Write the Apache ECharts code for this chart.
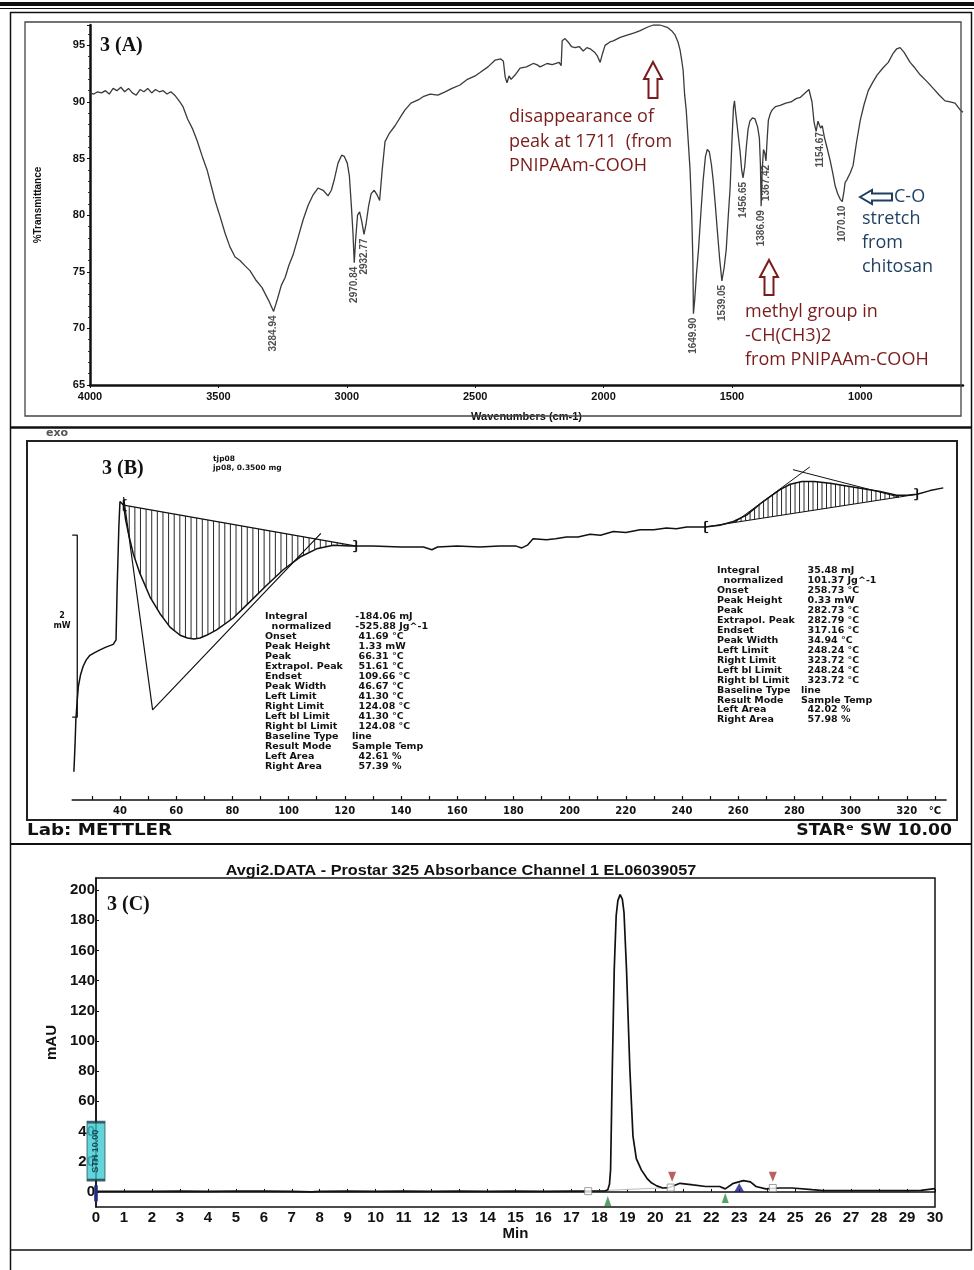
<!DOCTYPE html>
<html>
<head>
<meta charset="utf-8">
<script src="https://cdn.jsdelivr.net/npm/echarts@6/dist/echarts.min.js"></script>
<style>
  html, body { margin: 0; padding: 0; background: #fff; }
  #fig { width: 974px; height: 1270px; }
</style>
</head>
<body>
<div id="fig"></div>
<script>
// ---------- 3(A) FTIR spectrum: [wavenumber cm-1, %T] ----------
const irSpectrum = [
  [4000,90.8],[3985,90.7],[3970,90.9],[3955,90.8],[3940,91.0],[3925,90.7],[3910,91.2],[3895,91.0],[3880,91.3],[3865,90.9],
  [3850,91.2],[3835,90.8],[3820,90.6],[3805,91.1],[3790,90.9],[3775,91.2],[3760,90.8],[3745,91.1],[3730,90.9],[3715,91.0],
  [3700,90.7],[3685,90.9],[3670,90.6],[3650,90.0],[3638,89.6],[3620,88.5],[3600,87.6],[3583,86.6],[3560,85.0],[3544,84.0],
  [3528,82.6],[3513,81.3],[3495,80.0],[3474,78.4],[3455,77.2],[3435,76.3],[3416,76.0],[3395,75.5],[3377,75.1],[3355,74.3],
  [3330,73.6],[3305,72.5],[3284.94,71.5],[3270,72.6],[3255,73.8],[3240,74.5],[3225,75.6],[3209,76.5],[3190,78.0],[3170,79.6],
  [3150,80.9],[3131,81.8],[3112,82.4],[3092,82.2],[3073,81.7],[3060,82.2],[3048,83.2],[3034,84.6],[3020,85.3],[3010,85.2],
  [2998,84.6],[2990,83.5],[2982,80.8],[2976,78.5],[2970.84,75.8],[2965,78.0],[2958,80.0],[2950,80.3],[2942,79.5],[2932.77,78.3],
  [2925,79.2],[2915,80.8],[2905,81.9],[2893,82.2],[2882,81.8],[2872,81.3],[2862,84.0],[2851,86.5],[2835,87.2],[2812,87.9],
  [2790,88.7],[2773,89.3],[2750,89.9],[2720,90.2],[2700,90.5],[2675,90.7],[2645,90.6],[2617,90.9],[2590,91.2],[2559,91.5],
  [2530,92.0],[2500,92.3],[2481,92.6],[2450,93.1],[2422,93.7],[2400,93.8],[2390,93.6],[2383,92.2],[2376,91.7],[2368,92.3],
  [2360,92.0],[2344,92.4],[2325,93.0],[2300,93.1],[2274,93.4],[2260,93.3],[2247,93.1],[2220,93.4],[2200,93.3],[2173,93.5],
  [2165,93.2],[2161,95.4],[2150,95.6],[2138,95.3],[2125,94.9],[2111,94.8],[2095,94.9],[2079,94.5],[2065,94.8],[2052,94.7],
  [2035,94.4],[2025,94.1],[2013,93.5],[2005,94.2],[1994,95.0],[1975,95.3],[1962,95.4],[1935,95.7],[1908,95.9],[1880,96.1],
  [1857,96.3],[1830,96.6],[1807,96.8],[1780,96.8],[1752,96.6],[1735,96.3],[1721,95.9],[1710,95.3],[1702,94.6],[1695,93.6],
  [1690,92.8],[1684,90.6],[1678,89.3],[1670,86.5],[1663,84.0],[1657,80.5],[1652,76.0],[1649.90,71.3],[1645,72.5],[1638,74.8],
  [1630,77.0],[1620,80.5],[1612,83.1],[1603,85.2],[1596,85.8],[1588,85.6],[1580,84.5],[1573,83.1],[1565,81.0],[1557,78.7],
  [1548,76.2],[1539.05,74.2],[1530,75.4],[1522,77.0],[1514,80.0],[1507,82.4],[1500,86.5],[1494,89.5],[1490,90.1],[1486,89.2],
  [1480,88.0],[1474,86.8],[1468,85.6],[1462,84.0],[1456.65,83.3],[1450,84.3],[1444,86.0],[1437,87.6],[1430,88.3],[1420,88.6],
  [1410,88.5],[1400,87.8],[1393,86.8],[1389,84.5],[1386.09,80.8],[1382,84.0],[1377,85.8],[1372,85.5],[1367.42,84.8],[1363,86.6],
  [1358,88.4],[1350,89.0],[1343,89.3],[1330,89.6],[1312,89.7],[1290,89.9],[1270,90.0],[1250,90.3],[1234,90.4],[1215,90.8],
  [1200,91.1],[1195,91.2],[1188,90.0],[1180,88.2],[1172,87.4],[1165,88.3],[1160,88.4],[1154.67,87.7],[1148,87.9],[1140,86.9],
  [1130,86.0],[1117,84.8],[1107,83.7],[1098,82.6],[1088,81.9],[1078,81.4],[1070.10,81.2],[1063,82.2],[1059,82.9],[1053,83.1],
  [1047,83.1],[1038,83.8],[1028,84.4],[1015,86.4],[1000,88.4],[985,89.8],[969,91.0],[950,91.8],[934,92.4],[912,93.0],
  [891,93.5],[872,94.3],[858,94.7],[845,94.8],[830,94.4],[806,93.5],[787,93.0],[767,92.4],[740,91.8],[716,91.2],
  [692,90.6],[670,90.1],[650,90.0],[631,89.9],[611,89.3],[600,89.1]
];
// labelled band minima: [wavenumber, %T]
const irPeaks = [
  [3284.94,71.5],[2970.84,75.8],[2932.77,78.3],[1649.90,71.3],[1539.05,74.2],
  [1456.65,83.3],[1386.09,80.8],[1367.42,84.8],[1154.67,87.7],[1070.10,81.2]
];
const wavenumberTicks = [4000,3500,3000,2500,2000,1500,1000];
const transmittanceTicks = [65,70,75,80,85,90,95];

// ---------- 3(B) DSC thermogram: [temperature °C, heat flow mW] ----------
const dscCurve = [
  [23.6,0.31],[24.0,0.60],[24.3,0.88],[24.8,1.10],[25.2,1.25],[26.0,1.38],[26.9,1.47],[28.0,1.54],[29.3,1.59],[31.0,1.62],
  [32.9,1.65],[35.0,1.68],[37.6,1.71],[38.6,1.76],[39.0,2.34],[39.6,3.00],[40.0,3.28],[40.7,3.30],[41.3,3.24],[42.0,3.08],
  [43.0,2.93],[44.7,2.71],[47.1,2.49],[50.7,2.23],[54.2,2.05],[57.8,1.90],[61.4,1.81],[64.0,1.78],[66.31,1.77],[68.5,1.78],
  [70.8,1.81],[74.4,1.87],[80.3,2.00],[86.3,2.18],[92.2,2.36],[98.1,2.53],[104.1,2.67],[110.0,2.76],[115.9,2.80],[121.9,2.79],
  [124.08,2.79],[130,2.79],[140,2.78],[148,2.78],[151,2.75],[153,2.78],[160,2.79],[168,2.78],[175,2.79],[181,2.79],
  [183,2.77],[185,2.80],[187,2.87],[191.8,2.86],[195,2.87],[198.9,2.89],[203,2.89],[207.3,2.92],[211,2.91],[215.6,2.95],
  [220,2.94],[225.1,2.97],[230,2.97],[234.5,2.99],[238,2.98],[241.7,3.00],[245,3.00],[248.24,3.00],[253.5,3.02],[258.3,3.06],
  [263.0,3.13],[268.9,3.28],[274.9,3.41],[278.5,3.47],[282.73,3.50],[287,3.50],[292.7,3.48],[298.6,3.45],[304.6,3.42],[310.5,3.39],
  [316.4,3.35],[320,3.35],[323.72,3.36],[328.3,3.40],[333.0,3.43]
];
// integration limits (left bl limit, right bl limit) of the two events
const integrationLimits = [[41.30,124.08],[248.24,323.72]];
// evaluation tangents: onset / extrapolated peak / endset construction
const tangentEndo = [[41.3,3.33],[51.61,0.99],[111.5,2.93]];
const tangentExoRise = [[258.73,3.05],[285.5,3.66]];
const tangentExoFall = [[279.5,3.63],[317.16,3.33]];
const scaleBarBase = 0.91, scaleBarSpan = 2;   // "2 mW" bar
const temperatureTicks = [40,60,80,100,120,140,160,180,200,220,240,260,280,300,320];
const temperatureMinor = [30,40,50,60,70,80,90,100,110,120,130,140,150,160,170,180,190,200,210,220,230,240,250,260,270,280,290,300,310,320,330];
const tableLabels = ['Integral','  normalized','Onset','Peak Height','Peak','Extrapol. Peak','Endset','Peak Width',
  'Left Limit','Right Limit','Left bl Limit','Right bl Limit','Baseline Type','Result Mode','Left Area','Right Area'];
const endoValues = [' -184.06 mJ',' -525.88 Jg^-1','  41.69 °C','  1.33 mW','  66.31 °C','  51.61 °C','  109.66 °C','  46.67 °C',
  '  41.30 °C','  124.08 °C','  41.30 °C','  124.08 °C','line','Sample Temp','  42.61 %','  57.39 %'];
const exoValues = ['  35.48 mJ','  101.37 Jg^-1','  258.73 °C','  0.33 mW','  282.73 °C','  282.79 °C','  317.16 °C','  34.94 °C',
  '  248.24 °C','  323.72 °C','  248.24 °C','  323.72 °C','line','Sample Temp','  42.02 %','  57.98 %'];

// ---------- 3(C) chromatogram: [time min, mAU] ----------
const chromatogram = [
  [0,0.3],[1,0.4],[2,0.3],[3,0.5],[4,0.4],[5,0.6],[6,0.5],[7,0.4],[7.7,0.0],[8,0.4],[9,0.5],[10,0.4],[11,0.5],[12,0.4],
  [13,0.5],[14,0.4],[15,0.5],[16,0.4],[17,0.5],[17.6,0.5],[18.2,0.6],[18.3,1.5],[18.36,5],[18.4,14.6],[18.46,80],[18.53,147],
  [18.6,183],[18.66,193],[18.74,197],[18.82,194],[18.88,185],[18.97,147],[19.09,81],[19.2,37],[19.32,22],[19.5,14.6],
  [19.7,9],[19.86,6],[20.05,4],[20.27,2.6],[20.5,2.9],[20.88,5.7],[21.35,4.6],[21.8,3.6],[22.3,3.6],[22.5,2.0],[22.79,5.7],[23.15,7.5],
  [23.4,6.6],[23.6,3.6],[23.95,2.0],[24.44,2.6],[24.9,2.6],[25.6,1.5],[26.0,0.9],[27,0.9],[28,0.8],[29,0.9],[29.5,1.0],[30,2.2]
];
const peakBounds = [[17.6,0.5],[20.55,2.9],[24.2,2.6]];
const peakStarts = [[18.3,-6],[22.5,-4]];
const peakEnds = [[20.6,10],[24.2,10]];
const peakApex = [[23.0,3]];
const injectMark = [[0,-1]];
const eventMark = [{ value: [0, 27], name: 'STH 10.00' }];
const integrationBase = [[17.6,0.5],[20.55,2.9]];
const timeTicks = [0,1,2,3,4,5,6,7,8,9,10,11,12,13,14,15,16,17,18,19,20,21,22,23,24,25,26,27,28,29,30];
const mauTicks = [0,20,40,60,80,100,120,140,160,180,200];

// ---------- helpers ----------
function interp(arr, x) {
  for (let i = 1; i < arr.length; i++) {
    if (arr[i][0] >= x) {
      const a = arr[i - 1], b = arr[i];
      return a[1] + (b[1] - a[1]) * (x - a[0]) / (b[0] - a[0]);
    }
  }
  return arr[arr.length - 1][1];
}
const hatchStep = [2.0, 1.6];
const INK = '#111';
const SANS = 'Liberation Sans';
const METTLER = 'DejaVu Sans';
const SERIF = 'Liberation Serif';
const plain = v => String(v);

function txt(x, y, text, o) {
  o = o || {};
  return {
    type: 'text', x: x, y: y, rotation: o.rot || 0, scaleX: o.sx || 1, z: 50,
    style: {
      text: text, fill: o.fill || INK,
      font: (o.weight || 'bold') + ' ' + (o.size || 12) + 'px "' + (o.family || SANS) + '"',
      align: o.align || 'left', verticalAlign: o.va || 'middle', lineHeight: o.lh
    }
  };
}
function upArrow(cx, ty, by, color) {
  return { type: 'polygon', z: 50, shape: { points: [[cx, ty], [cx + 9, ty + 17], [cx + 4.5, ty + 17], [cx + 4.5, by], [cx - 4.5, by], [cx - 4.5, ty + 17], [cx - 9, ty + 17]] },
    style: { fill: '#fff', stroke: color, lineWidth: 2 } };
}
function leftArrow(tx, cy, ex, color) {
  return { type: 'polygon', z: 50, shape: { points: [[tx, cy], [tx + 12, cy - 7], [tx + 12, cy - 3.5], [ex, cy - 3.5], [ex, cy + 3.5], [tx + 12, cy + 3.5], [tx + 12, cy + 7]] },
    style: { fill: '#fff', stroke: color, lineWidth: 2 } };
}
function hline(x1, x2, y, w, c) { return { type: 'line', z: 40, shape: { x1: x1, y1: y, x2: x2, y2: y }, style: { stroke: c || INK, lineWidth: w } }; }
function vline(x, y1, y2, w, c) { return { type: 'line', z: 40, shape: { x1: x, y1: y1, x2: x, y2: y2 }, style: { stroke: c || INK, lineWidth: w } }; }

const RED = '#7a1c1c', BLUE = '#1f3f5f';

const chart = echarts.init(document.getElementById('fig'), null, { renderer: 'canvas' });
chart.setOption({
  animation: false,
  backgroundColor: '#fff',
  grid: [
    { left: 90, width: 873, top: 25, height: 360 },
    { left: 72.2, width: 873.9, top: 436, height: 364 },
    { left: 96, width: 839, top: 878, height: 329, show: true, borderColor: INK, borderWidth: 1.5 }
  ],
  xAxis: [
    { gridIndex: 0, type: 'value', min: 600, max: 4000, inverse: true,
      name: 'Wavenumbers (cm-1)', nameLocation: 'middle', nameGap: 26,
      nameTextStyle: { fontSize: 11, fontWeight: 'bold', fontFamily: SANS, color: INK },
      axisLine: { lineStyle: { color: INK, width: 2.5 } },
      axisTick: { show: true, customValues: wavenumberTicks, length: 3, lineStyle: { color: INK } },
      axisLabel: { customValues: wavenumberTicks, formatter: plain, fontSize: 11, fontWeight: 'bold', fontFamily: SANS, color: INK, margin: 6 },
      splitLine: { show: false } },
    { gridIndex: 1, type: 'value', min: 23, max: 334,
      axisLine: { lineStyle: { color: INK, width: 1.5 } },
      axisTick: { show: true, customValues: temperatureMinor, inside: true, length: 4, lineStyle: { color: INK, width: 1.2 } },
      axisLabel: { customValues: temperatureTicks.concat([330]), formatter: v => (v === 330 ? '°C' : String(v)),
        fontSize: 10, fontWeight: 'bold', fontFamily: METTLER, color: INK, margin: 6 },
      splitLine: { show: false } },
    { gridIndex: 2, type: 'value', min: 0, max: 30, interval: 1,
      name: 'Min', nameLocation: 'middle', nameGap: 19,
      nameTextStyle: { fontSize: 15, fontWeight: 'bold', fontFamily: SANS, color: INK },
      axisLine: { lineStyle: { color: INK, width: 1.5 } },
      axisTick: { show: true, inside: true, length: 3, lineStyle: { color: INK } },
      axisLabel: { customValues: timeTicks, formatter: plain, fontSize: 15, fontWeight: 'bold', fontFamily: SANS, color: INK, margin: 3 },
      splitLine: { show: false } }
  ],
  yAxis: [
    { gridIndex: 0, type: 'value', min: 65, max: 96.8, interval: 5,
      name: '%Transmittance', nameLocation: 'middle', nameGap: 47, nameRotate: 90,
      nameTextStyle: { fontSize: 10, fontWeight: 'bold', fontFamily: SANS, color: INK },
      axisLine: { show: true, lineStyle: { color: INK, width: 2.5 } },
      axisTick: { show: true, length: 3, lineStyle: { color: INK } },
      minorTick: { show: true, splitNumber: 5, length: 2, lineStyle: { color: '#333' } },
      axisLabel: { customValues: transmittanceTicks, formatter: plain, fontSize: 11, fontWeight: 'bold', fontFamily: SANS, color: INK, margin: 5 },
      splitLine: { show: false } },
    { gridIndex: 1, type: 'value', min: 0, max: 4, show: false },
    { gridIndex: 2, type: 'value', min: -10, max: 208,
      name: 'mAU', nameLocation: 'middle', nameGap: 36, nameRotate: 90,
      nameTextStyle: { fontSize: 15, fontWeight: 'bold', fontFamily: SANS, color: INK },
      axisLine: { show: true, lineStyle: { color: INK, width: 1.5 } },
      axisTick: { show: true, customValues: mauTicks, inside: true, length: 3, lineStyle: { color: INK } },
      axisLabel: { customValues: mauTicks, formatter: plain, fontSize: 15, fontWeight: 'bold', fontFamily: SANS, color: INK, margin: 1 },
      splitLine: { show: false } }
  ],
  series: [
    // ---- A ----
    { type: 'line', xAxisIndex: 0, yAxisIndex: 0, data: irSpectrum, showSymbol: false, silent: true,
      lineStyle: { color: '#3a3a3a', width: 1.3 } },
    { type: 'scatter', xAxisIndex: 0, yAxisIndex: 0, symbolSize: 0, silent: true,
      data: irPeaks.map(p => ({ value: p, name: p[0].toFixed(2) })),
      label: { show: true, formatter: '{b}', position: 'bottom', rotate: 90, align: 'right', verticalAlign: 'middle',
        distance: 4, fontSize: 10, fontWeight: 'bold', fontFamily: SANS, color: '#222' } },
    // ---- B ----
    { type: 'custom', xAxisIndex: 1, yAxisIndex: 1, data: integrationLimits, silent: true, z: 3,
      renderItem: function (params, api) {
        const l = api.value(0), r = api.value(1);
        const step = hatchStep[params.dataIndex];
        const bl = interp(dscCurve, l), br = interp(dscCurve, r);
        const base = t => bl + (br - bl) * (t - l) / (r - l);
        const seg = (p, q, w) => ({ type: 'line', shape: { x1: p[0], y1: p[1], x2: q[0], y2: q[1] }, style: { stroke: INK, lineWidth: w } });
        const kids = [];
        for (let t = l + step; t < r - step * 0.3; t += step) {
          kids.push(seg(api.coord([t, base(t)]), api.coord([t, interp(dscCurve, t)]), 0.9));
        }
        kids.push(seg(api.coord([l, bl]), api.coord([r, br]), 1.1));
        [[l, bl, 1], [r, br, -1]].forEach(function (m) {
          const a = api.coord([m[0], m[1] + 0.06]), b = api.coord([m[0], m[1] - 0.06]);
          kids.push(seg(a, b, 1.8));
          kids.push(seg(a, [a[0] + m[2] * 3, a[1]], 1.2));
          kids.push(seg(b, [b[0] + m[2] * 3, b[1]], 1.2));
        });
        return { type: 'group', children: kids };
      } },
    { type: 'line', xAxisIndex: 1, yAxisIndex: 1, data: dscCurve, showSymbol: false, silent: true, z: 4,
      lineStyle: { color: INK, width: 1.5 } },
    { type: 'line', xAxisIndex: 1, yAxisIndex: 1, data: tangentEndo, showSymbol: false, silent: true,
      lineStyle: { color: INK, width: 1.2 } },
    { type: 'line', xAxisIndex: 1, yAxisIndex: 1, data: tangentExoRise, showSymbol: false, silent: true,
      lineStyle: { color: INK, width: 1 } },
    { type: 'line', xAxisIndex: 1, yAxisIndex: 1, data: tangentExoFall, showSymbol: false, silent: true,
      lineStyle: { color: INK, width: 1 } },
    { type: 'line', xAxisIndex: 1, yAxisIndex: 1, showSymbol: false, silent: true, clip: false,
      data: [[23.0, scaleBarBase + scaleBarSpan], [24.8, scaleBarBase + scaleBarSpan], [24.8, scaleBarBase], [23.0, scaleBarBase]],
      lineStyle: { color: INK, width: 1.3 } },
    // ---- C ----
    { type: 'line', xAxisIndex: 2, yAxisIndex: 2, data: integrationBase, showSymbol: false, silent: true,
      lineStyle: { color: '#bbb', width: 1 } },
    { type: 'line', xAxisIndex: 2, yAxisIndex: 2, data: chromatogram, showSymbol: false, silent: true, z: 3,
      lineStyle: { color: INK, width: 1.7 } },
    { type: 'scatter', xAxisIndex: 2, yAxisIndex: 2, data: peakBounds, symbol: 'rect', symbolSize: 7, silent: true, z: 4,
      itemStyle: { color: '#fff', borderColor: '#888', borderWidth: 1 } },
    { type: 'scatter', xAxisIndex: 2, yAxisIndex: 2, data: peakStarts, symbol: 'triangle', symbolSize: [7, 10], silent: true, z: 4,
      itemStyle: { color: '#2e8b3e' } },
    { type: 'scatter', xAxisIndex: 2, yAxisIndex: 2, data: peakEnds, symbol: 'triangle', symbolRotate: 180, symbolSize: [8, 10], silent: true, z: 4,
      itemStyle: { color: '#a83a3a' } },
    { type: 'scatter', xAxisIndex: 2, yAxisIndex: 2, data: peakApex, symbol: 'triangle', symbolSize: [10, 9], silent: true, z: 4,
      itemStyle: { color: '#1c1c8c' } },
    { type: 'scatter', xAxisIndex: 2, yAxisIndex: 2, data: injectMark, symbol: 'rect', symbolSize: [4, 16], silent: true, clip: false, z: 4,
      itemStyle: { color: '#24308a' } },
    { type: 'scatter', xAxisIndex: 2, yAxisIndex: 2, data: eventMark, symbol: 'rect', symbolSize: [18, 58], silent: true, clip: false, z: 5,
      itemStyle: { color: '#3cc9cf', borderColor: '#1a3a4a', borderWidth: 1.5 },
      label: { show: true, formatter: '{b}', position: 'inside', rotate: 90, fontSize: 9, fontWeight: 'bold', fontFamily: SANS, color: '#0c2a3a' } }
  ],
  graphic: [
    // page rules and panel frames
    { type: 'rect', z: 40, shape: { x: 0, y: 2, width: 974, height: 4 }, style: { fill: INK } },
    hline(0, 974, 8.5, 1),
    vline(10.5, 12, 1270, 1.5),
    vline(971.5, 12, 1250, 1.5),
    hline(10, 972, 12.5, 1.5),
    hline(10, 972, 427.5, 2.5),
    hline(10, 972, 844, 2),
    hline(10, 972, 1250, 1.5),
    { type: 'rect', z: 40, shape: { x: 25, y: 22, width: 936, height: 394 }, style: { fill: 'none', stroke: '#444', lineWidth: 1.3 } },
    { type: 'rect', z: 40, shape: { x: 27, y: 441, width: 930, height: 379 }, style: { fill: 'none', stroke: '#222', lineWidth: 2 } },

    // panel A texts
    txt(100, 46, '3 (A)', { size: 20, family: SERIF }),
    txt(509, 117, 'disappearance of', { size: 18, weight: 'normal', family: 'Open Sans', fill: RED }),
    txt(509, 142, 'peak at 1711  (from', { size: 18, weight: 'normal', family: 'Open Sans', fill: RED }),
    txt(509, 166, 'PNIPAAm-COOH', { size: 18, weight: 'normal', family: 'Open Sans', fill: RED }),
    txt(745, 312, 'methyl group in', { size: 18, weight: 'normal', family: 'Open Sans', fill: RED }),
    txt(745, 336, '-CH(CH3)2', { size: 18, weight: 'normal', family: 'Open Sans', fill: RED }),
    txt(745, 360, 'from PNIPAAm-COOH', { size: 18, weight: 'normal', family: 'Open Sans', fill: RED }),
    txt(894, 197, 'C-O', { size: 18, weight: 'normal', family: 'Open Sans', fill: BLUE }),
    txt(862, 219, 'stretch', { size: 18, weight: 'normal', family: 'Open Sans', fill: BLUE }),
    txt(862, 243, 'from', { size: 18, weight: 'normal', family: 'Open Sans', fill: BLUE }),
    txt(862, 267, 'chitosan', { size: 18, weight: 'normal', family: 'Open Sans', fill: BLUE }),
    upArrow(653, 62, 98, RED),
    upArrow(769, 260, 295, RED),
    leftArrow(860, 197, 892, BLUE),

    // panel B texts
    txt(46, 433, 'exo', { size: 11, family: METTLER, fill: '#555' }),
    txt(102, 469, '3 (B)', { size: 20, family: SERIF }),
    txt(213, 459, 'tjp08', { size: 7.5, family: METTLER }),
    txt(213, 468, 'jp08, 0.3500 mg', { size: 7.5, family: METTLER }),
    txt(62, 616, '2', { size: 8, family: METTLER, align: 'center' }),
    txt(62, 626, 'mW', { size: 8, family: METTLER, align: 'center' }),
    txt(265, 612, tableLabels.join('\n'), { size: 9.5, family: METTLER, va: 'top', lh: 10 }),
    txt(352, 612, endoValues.join('\n'), { size: 9.5, family: METTLER, va: 'top', lh: 10 }),
    txt(717, 566, tableLabels.join('\n'), { size: 9.5, family: METTLER, va: 'top', lh: 9.93 }),
    txt(801, 566, exoValues.join('\n'), { size: 9.5, family: METTLER, va: 'top', lh: 9.93 }),
    txt(27, 831, 'Lab: METTLER', { size: 15, family: METTLER, sx: 1.22 }),
    txt(952, 831, 'STARᵉ SW 10.00', { size: 15, family: METTLER, align: 'right', sx: 1.15 }),

    // panel C texts
    txt(461, 871, 'Avgi2.DATA - Prostar 325 Absorbance Channel 1 EL06039057', { size: 15, align: 'center', sx: 1.08 }),
    txt(107, 905, '3 (C)', { size: 20, family: SERIF })
  ]
});
</script>
</body>
</html>
